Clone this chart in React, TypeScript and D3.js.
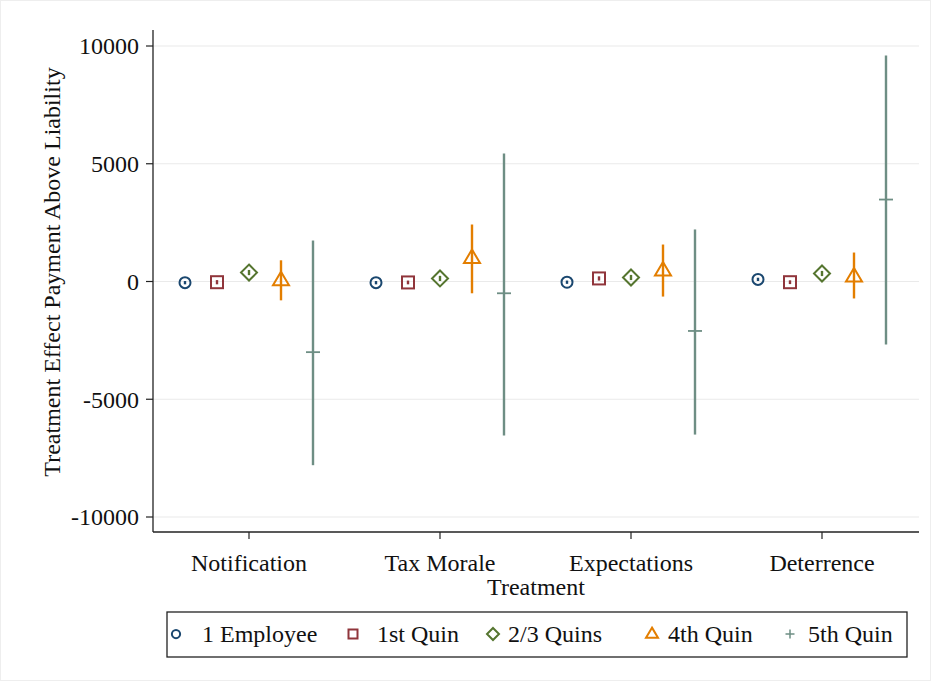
import React from "react";
import * as d3 from "d3";

const categories = ["Notification", "Tax Morale", "Expectations", "Deterrence"];
const seriesNames = ["1 Employee", "1st Quin", "2/3 Quins", "4th Quin", "5th Quin"];
const seriesColors = ["#1a476f", "#90353b", "#55752f", "#e37e00", "#6e8e84"];
const seriesShapes = ["circle", "square", "diamond", "triangle", "plus"];

// point estimates per series by category
const estEmployee = [-50, -50, -30, 90];
const estQ1 = [-30, -40, 130, -30];
const estQ23 = [380, 130, 170, 340];
const estQ4 = [50, 1000, 470, 210];
const estQ5 = [-3000, -500, -2100, 3480];

const loEmployee = [-120, -120, -100, 20];
const hiEmployee = [20, 20, 40, 160];
const loQ1 = [-120, -120, 40, -110];
const hiQ1 = [60, 40, 220, 50];
const loQ23 = [270, 20, 60, 230];
const hiQ23 = [490, 240, 280, 450];
const loQ4 = [-800, -500, -640, -720];
const hiQ4 = [900, 2420, 1570, 1230];
const loQ5 = [-7800, -6540, -6500, -2680];
const hiQ5 = [1740, 5440, 2210, 9600];

const yTicks = [-10000, -5000, 0, 5000, 10000];

const estimates = [estEmployee, estQ1, estQ23, estQ4, estQ5];
const lows = [loEmployee, loQ1, loQ23, loQ4, loQ5];
const highs = [hiEmployee, hiQ1, hiQ23, hiQ4, hiQ5];

function Marker({ shape, x, y, color, k = 1 }: { shape: string; x: number; y: number; color: string; k?: number }) {
  const sw = 2;
  if (shape === "circle") return <circle cx={x} cy={y} r={5.5 * k} fill="none" stroke={color} strokeWidth={sw} />;
  if (shape === "square") return <rect x={x - 6 * k} y={y - 6 * k} width={12 * k} height={12 * k} fill="none" stroke={color} strokeWidth={sw} />;
  if (shape === "diamond")
    return <path d={`M${x},${y - 8 * k} L${x + 8 * k},${y} L${x},${y + 8 * k} L${x - 8 * k},${y} Z`} fill="none" stroke={color} strokeWidth={sw} />;
  if (shape === "triangle")
    return <path d={`M${x},${y - 8.5 * k} L${x + 8 * k},${y + 5 * k} L${x - 8 * k},${y + 5 * k} Z`} fill="none" stroke={color} strokeWidth={sw} />;
  return <path d={`M${x - 6 * k},${y} L${x + 6 * k},${y} M${x},${y - 6 * k} L${x},${y + 6 * k}`} stroke={color} strokeWidth={1.5} />;
}

export default function App() {
  const W = 931, H = 681;
  const left = 153, right = 919, top = 30, bottom = 532;
  const y = d3.scaleLinear().domain([-10000, 10000]).range([517, 46]);
  const x = d3.scaleBand().domain(categories).range([153.5, 917.5]);
  const offset = d3.scalePoint().domain(seriesNames).range([-64, 64]);
  const font = "'Liberation Serif', 'Times New Roman', serif";
  const fs = 24;

  const legendItems = [
    { mx: 176, tx: 202 },
    { mx: 353, tx: 377 },
    { mx: 493, tx: 508 },
    { mx: 652, tx: 668 },
    { mx: 790, tx: 808 },
  ];

  return (
    <svg width={W} height={H} style={{ position: "absolute", left: 0, top: 0, background: "#fff" }} fontFamily={font}>
      <rect x={0.5} y={0.5} width={W - 1} height={H - 1} fill="#fff" stroke="#eeeeee" />
      {yTicks.map((t) => (
        <line key={"g" + t} x1={left} x2={right} y1={y(t)} y2={y(t)} stroke="#eaeaea" strokeWidth={1.2} />
      ))}
      <line x1={left} x2={left} y1={top} y2={bottom} stroke="#222" strokeWidth={1.3} />
      <line x1={left} x2={right} y1={bottom} y2={bottom} stroke="#222" strokeWidth={1.3} />
      {yTicks.map((t) => (
        <g key={"t" + t}>
          <line x1={left - 7} x2={left} y1={y(t)} y2={y(t)} stroke="#222" strokeWidth={1.2} />
          <text x={left - 14} y={y(t)} dy="0.35em" textAnchor="end" fontSize={fs} fill="#111">
            {t}
          </text>
        </g>
      ))}
      {categories.map((c) => {
        const cx = x(c)! + x.bandwidth() / 2;
        return (
          <g key={c}>
            <line x1={cx} x2={cx} y1={bottom} y2={bottom + 7} stroke="#222" strokeWidth={1.2} />
            <text x={cx} y={563} dy="0.35em" textAnchor="middle" fontSize={fs} fill="#111">
              {c}
            </text>
          </g>
        );
      })}
      <text x={536} y={587} dy="0.35em" textAnchor="middle" fontSize={fs} fill="#111">
        Treatment
      </text>
      <text transform={`translate(52,272) rotate(-90)`} dy="0.35em" textAnchor="middle" fontSize={fs} fill="#111">
        Treatment Effect Payment Above Liability
      </text>
      {seriesNames.map((s, si) =>
        categories.map((c, ci) => {
          const px = x(c)! + x.bandwidth() / 2 + offset(s)!;
          return (
            <g key={s + c}>
              <line x1={px} x2={px} y1={y(lows[si][ci])} y2={y(highs[si][ci])} stroke={seriesColors[si]} strokeWidth={2.4} />
              {si === 4 ? (
                <line x1={px - 7} x2={px + 7} y1={y(estimates[si][ci])} y2={y(estimates[si][ci])} stroke={seriesColors[si]} strokeWidth={1.8} />
              ) : (
                <Marker shape={seriesShapes[si]} x={px} y={y(estimates[si][ci])} color={seriesColors[si]} />
              )}
            </g>
          );
        })
      )}
      <rect x={167} y={612} width={740} height={45} fill="#fff" stroke="#222" strokeWidth={1.3} />
      {seriesNames.map((s, si) => (
        <g key={"l" + s}>
          <Marker shape={seriesShapes[si]} x={legendItems[si].mx} y={634} color={seriesColors[si]} k={0.75} />
          <text x={legendItems[si].tx} y={634} dy="0.35em" fontSize={fs} fill="#111">
            {s}
          </text>
        </g>
      ))}
    </svg>
  );
}
